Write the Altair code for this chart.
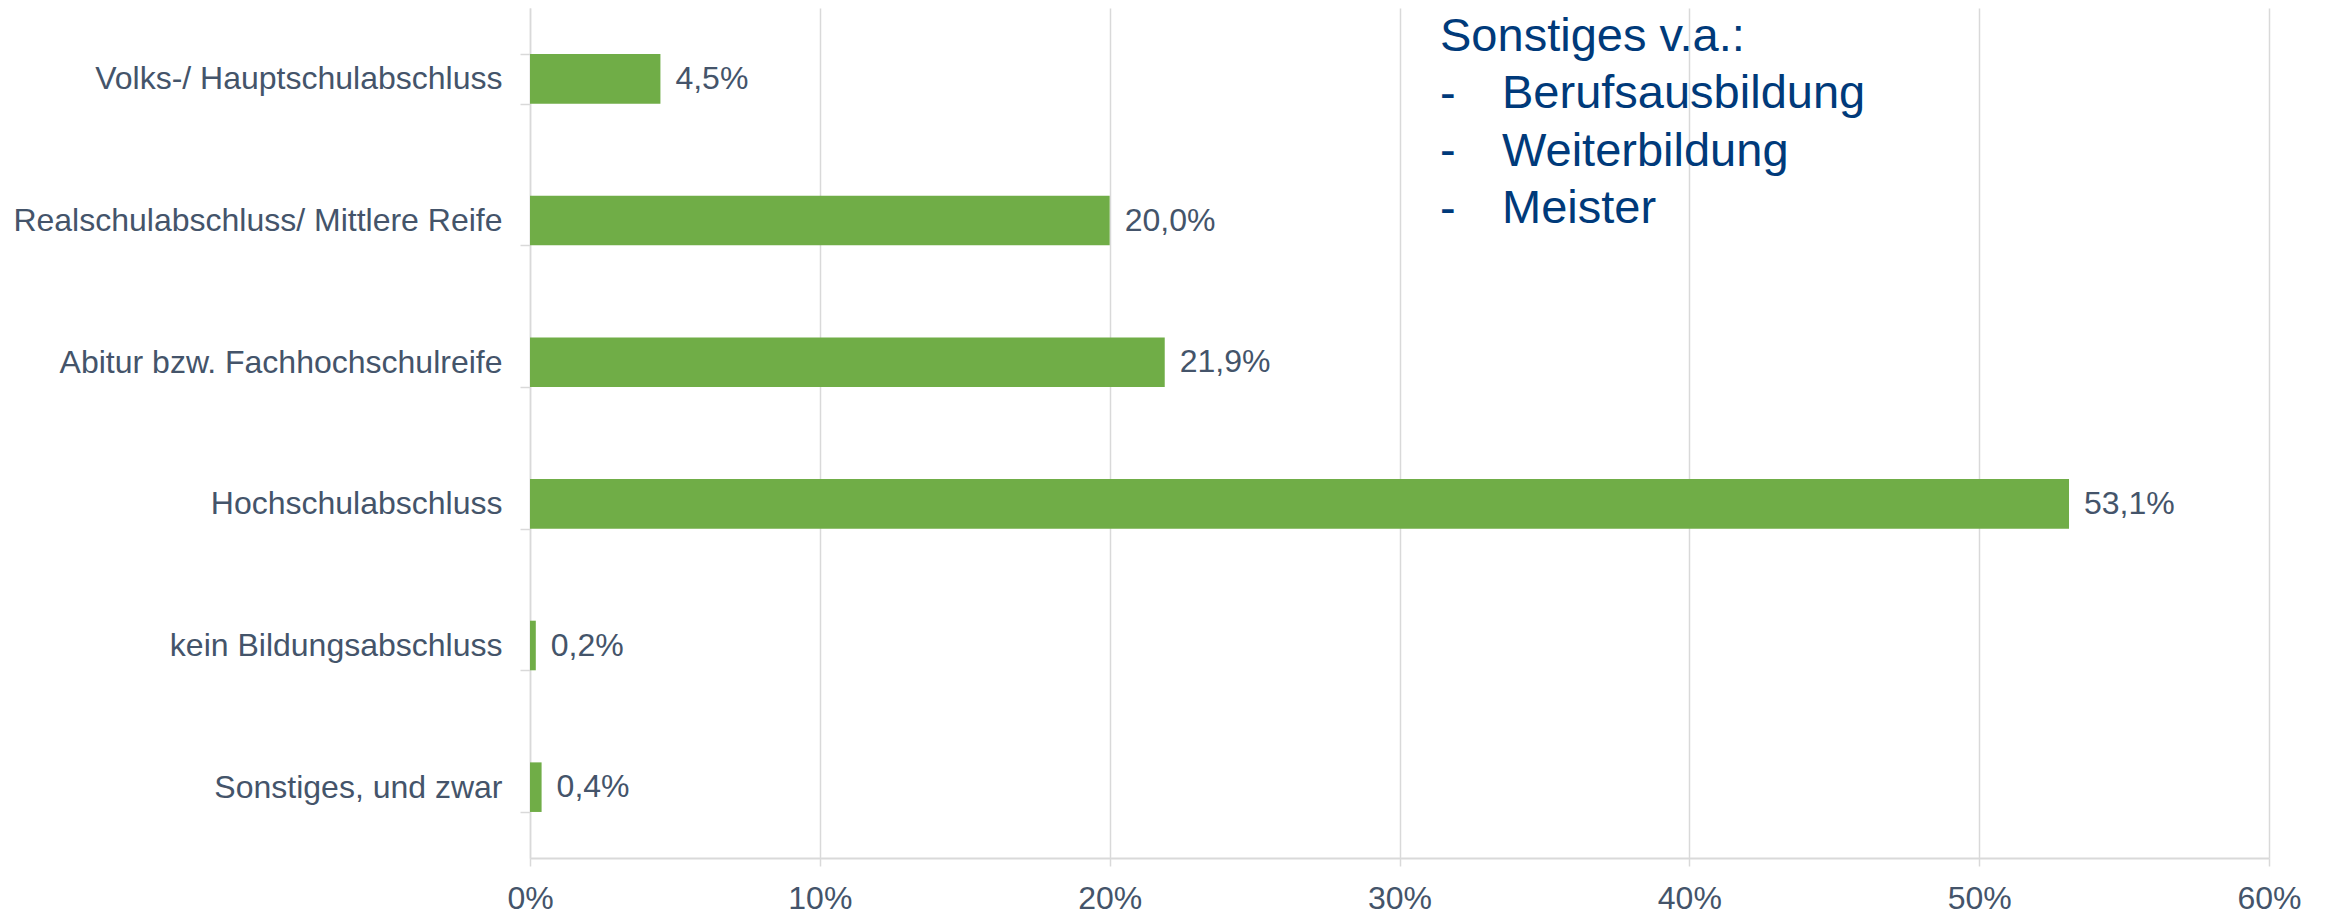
import altair as alt
import pandas as pd

categories = [
    "Volks-/ Hauptschulabschluss",
    "Realschulabschluss/ Mittlere Reife",
    "Abitur bzw. Fachhochschulreife",
    "Hochschulabschluss",
    "kein Bildungsabschluss",
    "Sonstiges, und zwar",
]
values = [4.5, 20.0, 21.9, 53.1, 0.2, 0.4]
value_labels = ["4,5%", "20,0%", "21,9%", "53,1%", "0,2%", "0,4%"]
x_ticks = [0, 10, 20, 30, 40, 50, 60]
note_head = ["Sonstiges v.a.:", "-", "-", "-"]
note_items = ["Berufsausbildung", "Weiterbildung", "Meister"]

df = pd.DataFrame({"cat": categories, "val": values, "lab": value_labels})

W, H = 1739, 850
FONT = "Liberation Sans"
TXT = "#44546A"
GRID = "#D9D9D9"
NAVY = "#003A7A"

base = alt.Chart(df)

y_enc = alt.Y(
    "cat:N",
    sort=categories,
    title=None,
    scale=alt.Scale(paddingInner=0.65, paddingOuter=0.325),
    axis=alt.Axis(
        tickBand="extent",
        domainColor=GRID,
        domainWidth=1.5,
        tickColor=GRID,
        tickWidth=1.5,
        tickSize=10,
        labelPadding=18,
        labelFontSize=32,
        labelColor=TXT,
        labelFont=FONT,
        labelLimit=700,
        grid=False,
    ),
)
x_enc = alt.X(
    "val:Q",
    title=None,
    scale=alt.Scale(domain=[0, 60], nice=False),
    axis=alt.Axis(
        values=x_ticks,
        labelExpr="datum.value + '%'",
        grid=True,
        gridColor=GRID,
        gridWidth=1.5,
        domainColor=GRID,
        domainWidth=2,
        tickColor=GRID,
        tickWidth=1.5,
        tickSize=8,
        labelPadding=17,
        labelFontSize=32,
        labelColor=TXT,
        labelFont=FONT,
        labelFlush=False,
    ),
)

bars = base.mark_bar(color="#70AD47").encode(x=x_enc, y=y_enc)
labels = base.mark_text(
    align="left", baseline="middle", dx=15, fontSize=32, font=FONT, color=TXT
).encode(x="val:Q", y=alt.Y("cat:N", sort=categories), text="lab:N")

note_df = pd.DataFrame({"k": [0]})
head = alt.Chart(note_df).mark_text(
    text=note_head, align="left", baseline="alphabetic", fontSize=47,
    font=FONT, color=NAVY, lineHeight=57.5,
).encode(x=alt.value(910), y=alt.value(43))
items = alt.Chart(note_df).mark_text(
    text=note_items, align="left", baseline="alphabetic", fontSize=47,
    font=FONT, color=NAVY, lineHeight=57.5,
).encode(x=alt.value(972), y=alt.value(100))

chart = (
    alt.layer(bars, labels, head, items)
    .properties(
        width=W,
        height=H,
        padding={"left": 522, "top": 0, "right": 40, "bottom": 62},
        autosize=alt.AutoSizeParams(type="none"),
    )
    .configure_view(stroke=None)
)

chart.save("out.html", embed_options={"renderer": "svg", "actions": False})
